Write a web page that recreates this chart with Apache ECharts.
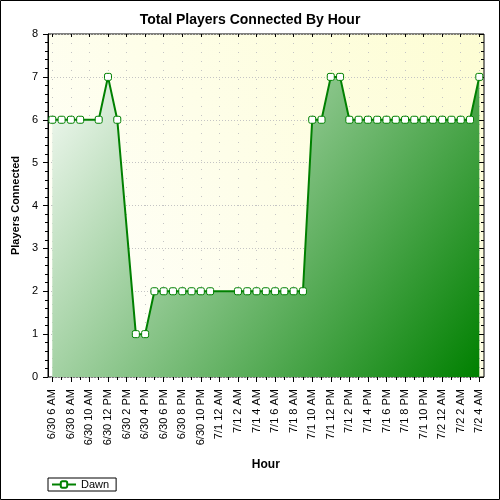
<!DOCTYPE html>
<html>
<head>
<meta charset="utf-8">
<title>Total Players Connected By Hour</title>
<script src="https://cdn.jsdelivr.net/npm/echarts@6/dist/echarts.min.js"></script>
<style>
    html, body { margin: 0; padding: 0; background: #fff; }
    #chart { width: 500px; height: 500px; }
</style>
</head>
<body>
<div id="chart"></div>
<script>
// hours after 6/30 6 AM that have a sample, and the player count at that hour
var hours = [0, 1, 2, 3, 5, 6, 7, 9, 10, 11, 12, 13, 14, 15, 16, 17,
    20, 21, 22, 23, 24, 25, 26, 27, 28, 29, 30, 31,
    32, 33, 34, 35, 36, 37, 38, 39, 40, 41, 42, 43, 44, 45, 46];
var dawn = [6, 6, 6, 6, 6, 7, 6, 1, 1, 2, 2, 2, 2, 2, 2, 2,
    2, 2, 2, 2, 2, 2, 2, 2, 6, 6, 7, 7,
    6, 6, 6, 6, 6, 6, 6, 6, 6, 6, 6, 6, 6, 6, 7];
// one label every 2 hours
var tickLabels = ['6/30 6 AM', '6/30 8 AM', '6/30 10 AM', '6/30 12 PM', '6/30 2 PM',
    '6/30 4 PM', '6/30 6 PM', '6/30 8 PM', '6/30 10 PM', '7/1 12 AM', '7/1 2 AM',
    '7/1 4 AM', '7/1 6 AM', '7/1 8 AM', '7/1 10 AM', '7/1 12 PM', '7/1 2 PM',
    '7/1 4 PM', '7/1 6 PM', '7/1 8 PM', '7/1 10 PM', '7/2 12 AM', '7/2 2 AM', '7/2 4 AM'];
var yTicks = [0, 1, 2, 3, 4, 5, 6, 7, 8];

var font = 'Liberation Sans';
var chart = echarts.init(document.getElementById('chart'));

var option = {
    textStyle: { fontFamily: font },
    title: {
        text: 'Total Players Connected By Hour',
        left: 'center',
        top: 8,
        textStyle: { fontFamily: font, fontSize: 14, fontWeight: 'bold', color: '#000' }
    },
    legend: {
        left: 48,
        top: 478,
        padding: [1, 7, 1, 3],
        borderColor: '#000',
        borderWidth: 1,
        itemWidth: 24,
        itemHeight: 8,
        textStyle: { fontFamily: font, fontSize: 11, color: '#000' },
        data: ['Dawn']
    },
    graphic: [{
        // outer chart border
        type: 'rect',
        shape: { x: 0.5, y: 0.5, width: 499, height: 499 },
        style: { fill: 'none', stroke: '#000', lineWidth: 1 },
        silent: true
    }],
    grid: [{
        // plot frame
        left: 48, right: 16, top: 34, bottom: 123,
        show: true,
        borderColor: '#000',
        borderWidth: 1,
        backgroundColor: new echarts.graphic.LinearGradient(1, 0, 0, 1, [
            { offset: 0, color: '#fdfdd3' },
            { offset: 1, color: '#ffffff' }
        ])
    }, {
        // data area, inset so first and last points sit off the frame
        left: 52.3, right: 20.7, top: 34, bottom: 123
    }],
    xAxis: [{
        gridIndex: 0,
        type: 'value', min: 0, max: 1,
        position: 'top',
        show: false
    }, {
        gridIndex: 1,
        type: 'value',
        min: 0, max: 46, interval: 2,
        name: 'Hour',
        nameLocation: 'middle',
        nameGap: 82,
        nameTextStyle: { fontFamily: font, fontSize: 12, fontWeight: 'bold', color: '#000' },
        axisLine: { show: false },
        axisTick: { show: true, length: 5, lineStyle: { color: '#000' } },
        minorTick: { show: true, splitNumber: 2, length: 3, lineStyle: { color: '#000' } },
        splitLine: { show: true, lineStyle: { color: '#c4c4c4', type: [1, 8] } },
        axisLabel: {
            rotate: 90,
            margin: 12,
            fontSize: 11,
            color: '#000',
            fontFamily: font,
            formatter: function(v) { return tickLabels[Math.round(v / 2)]; }
        }
    }, {
        gridIndex: 1,
        type: 'value',
        min: 0, max: 46, interval: 2,
        position: 'top',
        axisLine: { show: false },
        axisTick: { show: true, inside: true, length: 3, lineStyle: { color: '#000' } },
        axisLabel: { show: false },
        splitLine: { show: false }
    }],
    yAxis: [{
        gridIndex: 0,
        type: 'value',
        min: 0, max: 8, interval: 1,
        name: 'Players Connected',
        nameLocation: 'middle',
        nameGap: 27,
        nameTextStyle: { fontFamily: font, fontSize: 11, fontWeight: 'bold', color: '#000' },
        axisLine: { show: true, lineStyle: { color: '#000' } },
        axisTick: { show: true, length: 5, lineStyle: { color: '#000' } },
        minorTick: { show: true, splitNumber: 5, length: 3, lineStyle: { color: '#000' } },
        splitLine: { show: true, lineStyle: { color: '#c4c4c4', type: [1, 2] } },
        axisLabel: {
            margin: 10, fontSize: 11, color: '#000', fontFamily: font,
            formatter: function(v) { return yTicks.indexOf(v) >= 0 ? String(v) : ''; }
        }
    }, {
        gridIndex: 0,
        type: 'value',
        min: 0, max: 8, interval: 1,
        position: 'right',
        axisLine: { show: false },
        axisTick: { show: true, inside: true, length: 5, lineStyle: { color: '#000' } },
        minorTick: { show: true, splitNumber: 5, length: 3, lineStyle: { color: '#000' } },
        axisLabel: { show: false },
        splitLine: { show: false }
    }, {
        gridIndex: 1,
        type: 'value',
        min: 0, max: 8, interval: 1,
        show: false
    }],
    series: [{
        name: 'Dawn',
        type: 'line',
        xAxisIndex: 1,
        yAxisIndex: 2,
        data: hours.map(function(h, i) { return [h, dawn[i]]; }),
        symbol: 'roundRect',
        symbolSize: 7,
        lineStyle: { color: '#008000', width: 2 },
        itemStyle: { color: '#fff', borderColor: '#008000', borderWidth: 1 },
        areaStyle: {
            color: new echarts.graphic.LinearGradient(0, 0, 1, 1, [
                { offset: 0, color: '#f4faf4' },
                { offset: 1, color: '#008000' }
            ]),
            opacity: 1
        },
        animation: false
    }],
    animation: false
};
chart.setOption(option);

window.onresize = function() {
    chart.resize();
};
</script>
</body>
</html>
